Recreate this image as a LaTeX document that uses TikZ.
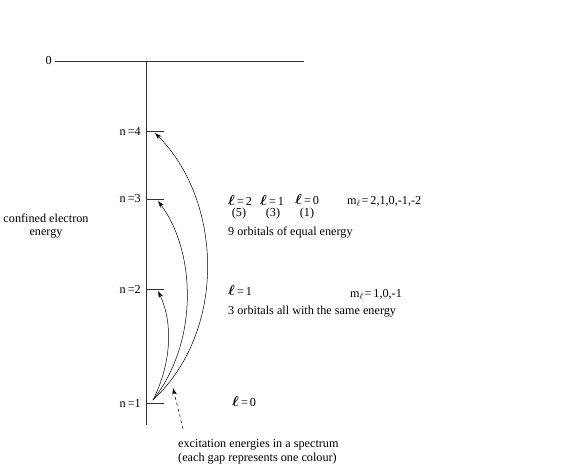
\documentclass[tikz,border=0pt]{standalone}
\usepackage{fontspec}
\setmainfont{Liberation Serif}
\usetikzlibrary{arrows.meta}
\newcommand{\lsym}{{\fontsize{15}{15}\selectfont\boldmath$\ell$}}
\newcommand{\elleq}[1]{\lsym\,=\,#1}
\newcommand{\msub}{m$_{\ell}$\kern0.5pt}
\begin{document}
\begin{tikzpicture}[x=1pt,y=-1pt,
  txt/.style={inner sep=0pt,font=\fontsize{12.2}{13.5}\selectfont},
  lvl/.style={line width=0.7pt,draw=black!80},
  trans/.style={line width=0.5pt,-{Stealth[length=7pt,width=4.5pt]}},
  hint/.style={line width=0.5pt,dashed,-{Stealth[length=7pt,width=4.5pt]}}]
\useasboundingbox (0,0) rectangle (588,471);
% axis
\coordinate (top) at (146,61);
\coordinate (bot) at (146,425);
\coordinate (zl) at (55,61);
\coordinate (zr) at (304,61);
\draw[lvl] (zl) -- (zr);
\draw[lvl] (top) -- (bot);
\node[txt,anchor=east] (zero) at (52,61) {0};
% levels
\coordinate (n4a) at (146,131); \coordinate (n4b) at (164,131);
\coordinate (n3a) at (146,199); \coordinate (n3b) at (164,199);
\coordinate (n2a) at (146,289); \coordinate (n2b) at (164,289);
\coordinate (n1a) at (146,403); \coordinate (n1b) at (164,403);
\draw[lvl] (n4a) -- (n4b);
\draw[lvl] (n3a) -- (n3b);
\draw[lvl] (n2a) -- (n2b);
\draw[lvl] (n1a) -- (n1b);
\node[txt,anchor=east] (l4) at (141,131) {n\,=4};
\node[txt,anchor=east] (l3) at (141,199) {n\,=3};
\node[txt,anchor=east] (l2) at (141,289) {n\,=2};
\node[txt,anchor=east] (l1) at (141,403) {n\,=1};
% transitions
\coordinate (s) at (153,400);
\coordinate (t2) at (158,291);
\coordinate (t3) at (158,201);
\coordinate (t4) at (155,133);
\draw[trans] (s) .. controls (173,360) and (172,320) .. (t2);
\draw[trans] (s) .. controls (200,340) and (195,250) .. (t3);
\draw[trans] (s) .. controls (228,330) and (222,200) .. (t4);
% dashed pointer
\coordinate (dtail) at (183,429);
\coordinate (dtip) at (173,388);
\draw[hint] (dtail) -- (dtip);
% left label
\node[txt,align=center] (conf) at (46,226) {confined electron\\energy};
% n=3 annotations
\node[txt,anchor=west] (l2a) at (228,200) {\elleq{2}};
\node[txt,anchor=west] (l2b) at (260,200) {\elleq{1}};
\node[txt,anchor=west] (l2c) at (295,200) {\elleq{0}};
\node[txt] (d5) at (239,214) {(5)};
\node[txt] (d3) at (273,214) {(3)};
\node[txt] (d1) at (307,214) {(1)};
\node[txt,anchor=west] (m3) at (347,201) {\msub=\,2,1,0,-1,-2};
\node[txt,anchor=west] (o9) at (228,233) {9 orbitals of equal energy};
% n=2 annotations
\node[txt,anchor=west] (lb1) at (228,290) {\elleq{1}};
\node[txt,anchor=west] (m2) at (350,294) {\msub=\,1,0,-1};
\node[txt,anchor=west] (o3) at (228,312) {3 orbitals all with the same energy};
% n=1 annotation
\node[txt,anchor=west] (lc0) at (232,402) {\elleq{0}};
% bottom text
\node[txt,anchor=west,align=left] (exc) at (178,452) {excitation energies in a spectrum\\(each gap represents one colour)};
\end{tikzpicture}
\end{document}
